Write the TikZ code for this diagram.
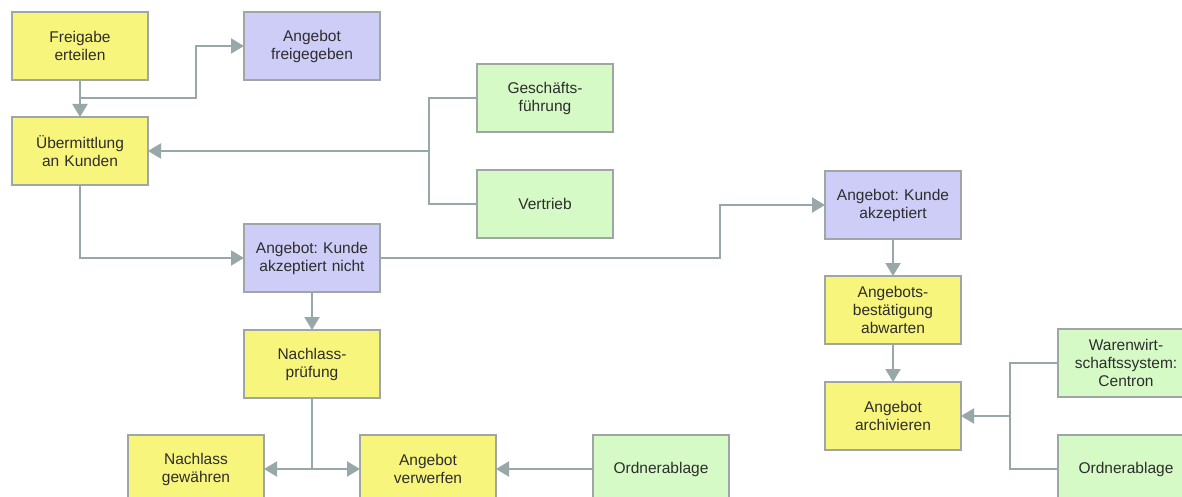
\documentclass[tikz,border=0pt]{standalone}
\usepackage{fontspec}
\setmainfont{Liberation Sans}
\usepackage{tikz}
\usetikzlibrary{arrows.meta,positioning}
\definecolor{gelb}{RGB}{248,245,125}
\definecolor{blau}{RGB}{205,205,248}
\definecolor{gruen}{RGB}{213,250,197}
\definecolor{rand}{RGB}{160,166,166}
\definecolor{linienfarbe}{RGB}{152,168,168}
\definecolor{schrift}{RGB}{45,45,45}
\frenchspacing
\tikzset{
    %Define standard arrow tip
    >={Triangle[length=13pt,width=15pt]},
    %Define style for boxes
    kasten/.style={
           rectangle,
           draw=rand, line width=1.6pt,
           minimum width=136pt,
           minimum height=68pt,
           inner sep=0pt,
           outer sep=0pt,
           text width=132pt,
           align=center,
           text=schrift,
           font=\fontsize{15.5}{18}\selectfont},
    aufgabe/.style={kasten, fill=gelb},
    ereignis/.style={kasten, fill=blau},
    stelle/.style={kasten, fill=gruen},
    % Define line styles
    linie/.style={
           draw=linienfarbe,
           line width=2.2pt},
    pfeil/.style={
           linie,
           -{>[fill=linienfarbe]}}
}
\begin{document}
\begin{tikzpicture}[x=1pt,y=-1pt]

\useasboundingbox (0,0) rectangle (1182,497);
\clip (0,0) rectangle (1182,497);

\node[aufgabe] (freigabe) at (80,46) {Freigabe\\erteilen};
\node[ereignis, right=96pt of freigabe] (freigegeben) {Angebot\\freigegeben};
\node[aufgabe, below=37pt of freigabe] (uebermittlung) {Übermittlung\\an Kunden};
\node[stelle] (gf) at (545,98) {Geschäfts-\\führung};
\node[stelle, below=38pt of gf] (vertrieb) {Vertrieb};
\node[ereignis] (nichtakz) at (312,258) {Angebot: Kunde\\akzeptiert nicht};
\node[aufgabe, below=38pt of nichtakz] (pruefung) {Nachlass-\\prüfung};
\node[aufgabe] (gewaehren) at (196,469) {Nachlass\\gewähren};
\node[aufgabe] (verwerfen) at (428,469) {Angebot\\verwerfen};
\node[stelle, right=97pt of verwerfen] (ordner1) {Ordnerablage};
\node[ereignis] (akzeptiert) at (893,205) {Angebot: Kunde\\akzeptiert};
\node[aufgabe, below=37pt of akzeptiert] (bestaetigung) {Angebots-\\bestätigung\\abwarten};
\node[aufgabe, below=38pt of bestaetigung] (archiv) {Angebot\\archivieren};
\node[stelle] (waws) at (1126,363) {Warenwirt-\\schaftssystem:\\Centron};
\node[stelle, below=38pt of waws] (ordner2) {Ordnerablage};

\coordinate (j1) at (80,98);
\coordinate (j2) at (uebermittlung.east -| 429,0);
\coordinate (j3) at (pruefung.south |- gewaehren.east);
\coordinate (j4) at (archiv.east -| 1010,0);

\draw[pfeil] (freigabe) -- (uebermittlung);
\draw[pfeil] (j1) -- ++(116,0) |- (freigegeben.west);
\draw[linie] (gf.west) -| (j2) |- (vertrieb.west);
\draw[pfeil] (j2) -- (uebermittlung.east);
\draw[pfeil] (uebermittlung.south) |- (nichtakz.west);
\draw[pfeil] (nichtakz.east) -- ++(340,0) |- (akzeptiert.west);
\draw[pfeil] (nichtakz) -- (pruefung);
\draw[linie] (pruefung) -- (j3);
\draw[pfeil] (j3) -- (gewaehren.east);
\draw[pfeil] (j3) -- (verwerfen.west);
\draw[pfeil] (ordner1) -- (verwerfen);
\draw[pfeil] (akzeptiert) -- (bestaetigung);
\draw[pfeil] (bestaetigung) -- (archiv);
\draw[linie] (waws.west) -| (j4) |- (ordner2.west);
\draw[pfeil] (j4) -- (archiv.east);

\end{tikzpicture}
\end{document}
